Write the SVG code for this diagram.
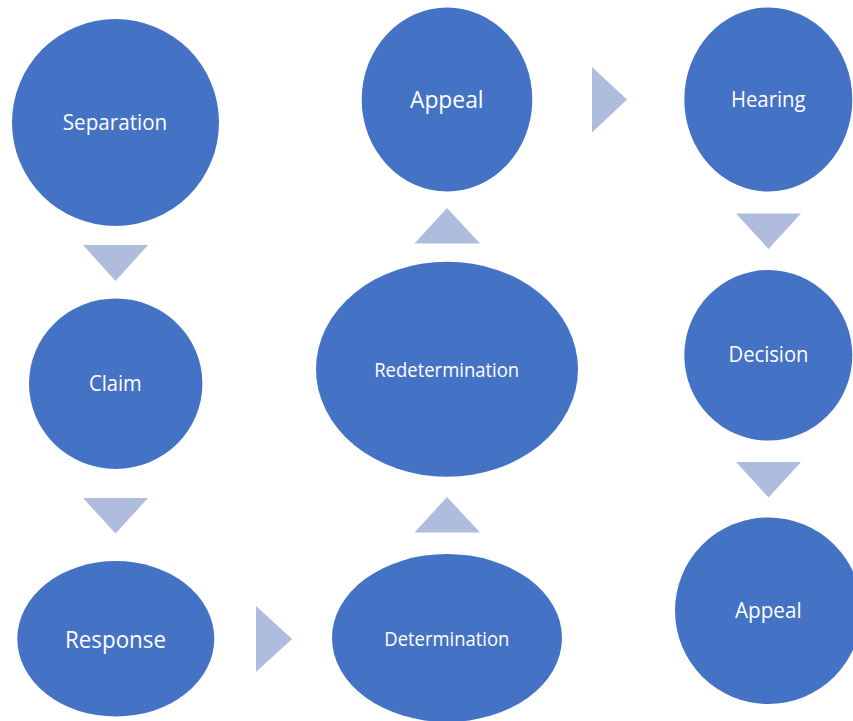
<svg xmlns="http://www.w3.org/2000/svg" width="853" height="721" viewBox="0 0 853 721">
<style>
.node{fill:#4472C4}
.arr{fill:#AFBCDE}
text{font-family:"Open Sans","Noto Sans","Liberation Sans",sans-serif;fill:#FFFFFF;text-anchor:middle}
</style>
<rect width="853" height="721" fill="#FFFFFF"/>
<g id="connectors">
<polygon class="arr" points="83,245 148,245 115.5,281"/>
<polygon class="arr" points="83,498 148,498 115.5,533.5"/>
<polygon class="arr" points="256,606 256,672 292,639"/>
<polygon class="arr" points="414.5,532.5 480,532.5 447,497"/>
<polygon class="arr" points="414.5,243.5 480,243.5 447,208"/>
<polygon class="arr" points="592,67 592,132.5 627,99.5"/>
<polygon class="arr" points="736,213.5 801,213.5 768.5,249"/>
<polygon class="arr" points="736,462 801,462 768.5,497.5"/>
</g>
<g id="separation"><ellipse class="node" cx="115.5" cy="122.5" rx="103.5" ry="103.5"/><text x="115" y="130" font-size="21" textLength="104.5" lengthAdjust="spacingAndGlyphs">Separation</text></g>
<g id="claim"><ellipse class="node" cx="115.7" cy="383.7" rx="86.7" ry="85.3"/><text x="115.3" y="391" font-size="21.5" textLength="52.7" lengthAdjust="spacingAndGlyphs">Claim</text></g>
<g id="response"><ellipse class="node" cx="115.8" cy="638.8" rx="98.5" ry="77.8"/><text x="115.5" y="647.7" font-size="24.5" textLength="101" lengthAdjust="spacingAndGlyphs">Response</text></g>
<g id="determination"><ellipse class="node" cx="447" cy="638" rx="115" ry="84"/><text x="446.8" y="645.7" font-size="20.5" textLength="125" lengthAdjust="spacingAndGlyphs">Determination</text></g>
<g id="redetermination"><ellipse class="node" cx="447" cy="369.2" rx="131" ry="107.5"/><text x="446.7" y="376.7" font-size="19.5" textLength="145" lengthAdjust="spacingAndGlyphs">Redetermination</text></g>
<g id="appeal-1"><ellipse class="node" cx="447" cy="99.5" rx="85.3" ry="92"/><text x="446.8" y="108.3" font-size="24.5" textLength="73.7" lengthAdjust="spacingAndGlyphs">Appeal</text></g>
<g id="hearing"><ellipse class="node" cx="768.3" cy="99.5" rx="84" ry="92"/><text x="768.3" y="107.3" font-size="22" textLength="74.7" lengthAdjust="spacingAndGlyphs">Hearing</text></g>
<g id="decision"><ellipse class="node" cx="768.3" cy="355.3" rx="84" ry="85.3"/><text x="768.5" y="362.3" font-size="21" textLength="80" lengthAdjust="spacingAndGlyphs">Decision</text></g>
<g id="appeal-2"><ellipse class="node" cx="768.3" cy="610.7" rx="93.3" ry="93.3"/><text x="768.3" y="618.3" font-size="22" textLength="66.7" lengthAdjust="spacingAndGlyphs">Appeal</text></g>
</svg>
